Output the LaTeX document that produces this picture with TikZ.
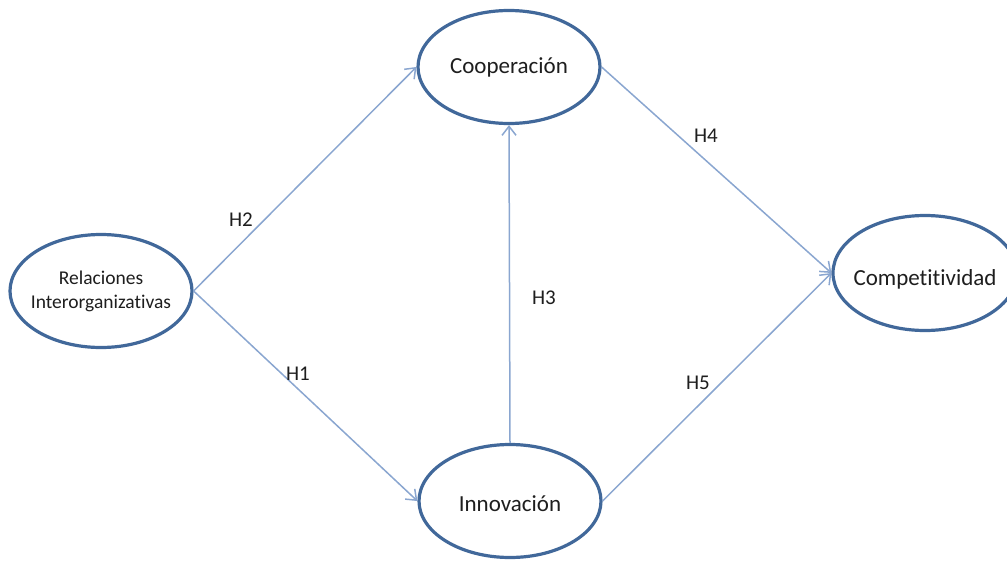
\documentclass[tikz,border=0pt]{standalone}
\usepackage{fontspec}
\setmainfont[Ligatures={NoCommon}]{Carlito}
\usetikzlibrary{shapes.geometric,arrows.meta}
\definecolor{nodeborder}{HTML}{41689A}
\definecolor{arrowcol}{HTML}{8AA6D0}
\definecolor{txt}{HTML}{1E1E1E}
\tikzset{
  construct/.style={ellipse, draw=nodeborder, line width=3.2pt, fill=white,
    minimum width=182pt, minimum height=113pt, inner sep=-22pt, text=txt,
    font=\fontsize{23}{26}\selectfont, align=center},
  link/.style={draw=arrowcol, line width=1.5pt, -{Straight Barb[length=9pt,width=14pt,line width=1.5pt]}},
  hyp/.style={text=txt, font=\fontsize{21}{24}\selectfont, inner sep=0pt}
}
\begin{document}
\begin{tikzpicture}[x=1pt,y=-1pt]
\useasboundingbox (0,0) rectangle (1007,562);
\clip (0,0) rectangle (1007,562);
\node[construct, font=\fontsize{19.5}{24}\selectfont] (rel) at (101,291) {Relaciones\\Interorganizativas};
\node[construct] (coop) at (509,67) {Cooperación};
\node[construct] (inno) at (510,501) {\raisebox{-3pt}[\height][\depth]{Innovación}};
\node[construct, minimum width=184pt, minimum height=115pt] (comp) at (925,273) {\raisebox{-6pt}[\height][\depth]{Competitividad}};
\draw[link] (rel.east) -- (coop.west);
\draw[link] (rel.east) -- (inno.west);
\draw[link] (inno.north) -- (coop.south);
\draw[link] (coop.east) -- (comp.west);
\draw[link] (inno.east) -- (comp.west);
\node[hyp] (h2) at (241,220) {H2};
\node[hyp] (h1) at (298,374) {H1};
\node[hyp] (h3) at (544,298) {H3};
\node[hyp] (h4) at (706,136) {H4};
\node[hyp] (h5) at (698,383) {H5};
\end{tikzpicture}
\end{document}
